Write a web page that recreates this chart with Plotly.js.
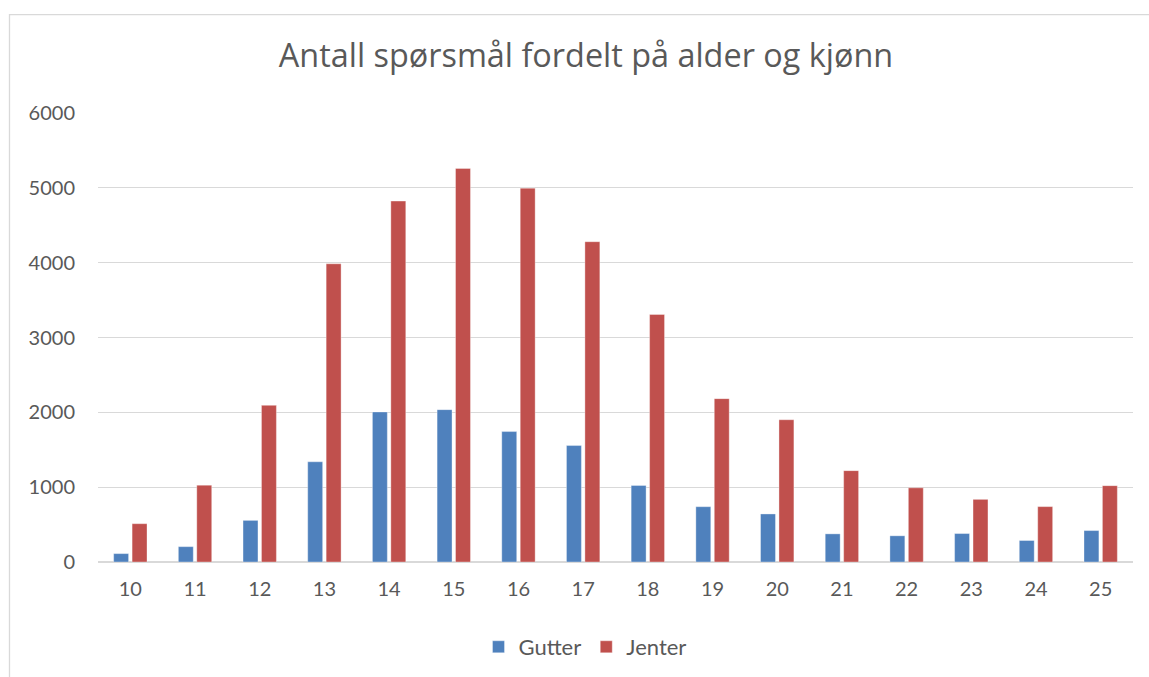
<!DOCTYPE html>
<html>
<head>
<meta charset="utf-8">
<script src="https://cdn.plot.ly/plotly-3.0.1.min.js"></script>
<style>html,body{margin:0;padding:0;background:#fff;} #chart{width:1149px;height:677px;}</style>
</head>
<body>
<div id="chart"></div>
<script>
const ages = ["10","11","12","13","14","15","16","17","18","19","20","21","22","23","24","25"];
const gutter = [112, 205, 556, 1339, 2005, 2036, 1743, 1556, 1023, 739, 642, 376, 350, 380, 287, 420];
const jenter = [512, 1027, 2093, 3985, 4823, 5259, 4996, 4280, 3307, 2183, 1901, 1221, 991, 837, 740, 1020];
const yTicks = [0, 1000, 2000, 3000, 4000, 5000, 6000];

const FONT = 'Lato, "Open Sans", sans-serif';
const TFONT = '"Open Sans", Lato, sans-serif';
const GRAY = '#595959';

const traces = [
  {type:'bar', name:'Gutter', x:ages, y:gutter,
   marker:{color:'#4F81BD', line:{color:'rgba(255,255,255,0.35)', width:1}}},
  {type:'bar', name:'Jenter', x:ages, y:jenter,
   marker:{color:'#C0504D', line:{color:'rgba(255,255,255,0.35)', width:1}}}
];

const layout = {
  width:1149, height:677,
  margin:{l:98, r:16, t:112.5, b:114.5, pad:0},
  paper_bgcolor:'#fff', plot_bgcolor:'#fff',
  font:{family:FONT, color:GRAY, size:20},
  title:{text:'Antall spørsmål fordelt på alder og kjønn', font:{family:TFONT, size:32.4, color:GRAY},
         xref:'container', x:586/1149, xanchor:'center', yref:'container', y:1-56/677, yanchor:'middle'},
  barmode:'group', bargap:0.43, bargroupgap:0.19,
  showlegend:true,
  legend:{orientation:'h', xref:'container', x:585/1149, xanchor:'center', yref:'container', y:1-647/677, yanchor:'middle',
          font:{family:FONT, size:22, color:GRAY}, traceorder:'normal', itemwidth:30, tracegroupgap:0},
  xaxis:{type:'category', showgrid:false, zeroline:false, showline:false, ticks:'',
         tickfont:{family:FONT, size:20, color:GRAY}, ticklabelstandoff:13, fixedrange:true, automargin:false},
  yaxis:{range:[0,6000], tickvals:yTicks, ticktext:yTicks.map(String), showgrid:true,
         gridcolor:'#d9d9d9', gridwidth:1.3, zeroline:true, zerolinecolor:'#d9d9d9', zerolinewidth:2,
         showline:false, ticks:'', tickfont:{family:FONT, size:20, color:GRAY}, ticklabelstandoff:22, fixedrange:true, automargin:false},
  shapes:[
    {type:'rect', xref:'paper', yref:'paper', x0:-88.5/1035, x1:1070/1035, y0:-130/450, y1:548.5/450,
     line:{color:'#d9d9d9', width:1.3}, fillcolor:'rgba(0,0,0,0)', layer:'below'}
  ]
};

Plotly.newPlot('chart', traces, layout, {displayModeBar:false, staticPlot:true});
</script>
</body>
</html>
